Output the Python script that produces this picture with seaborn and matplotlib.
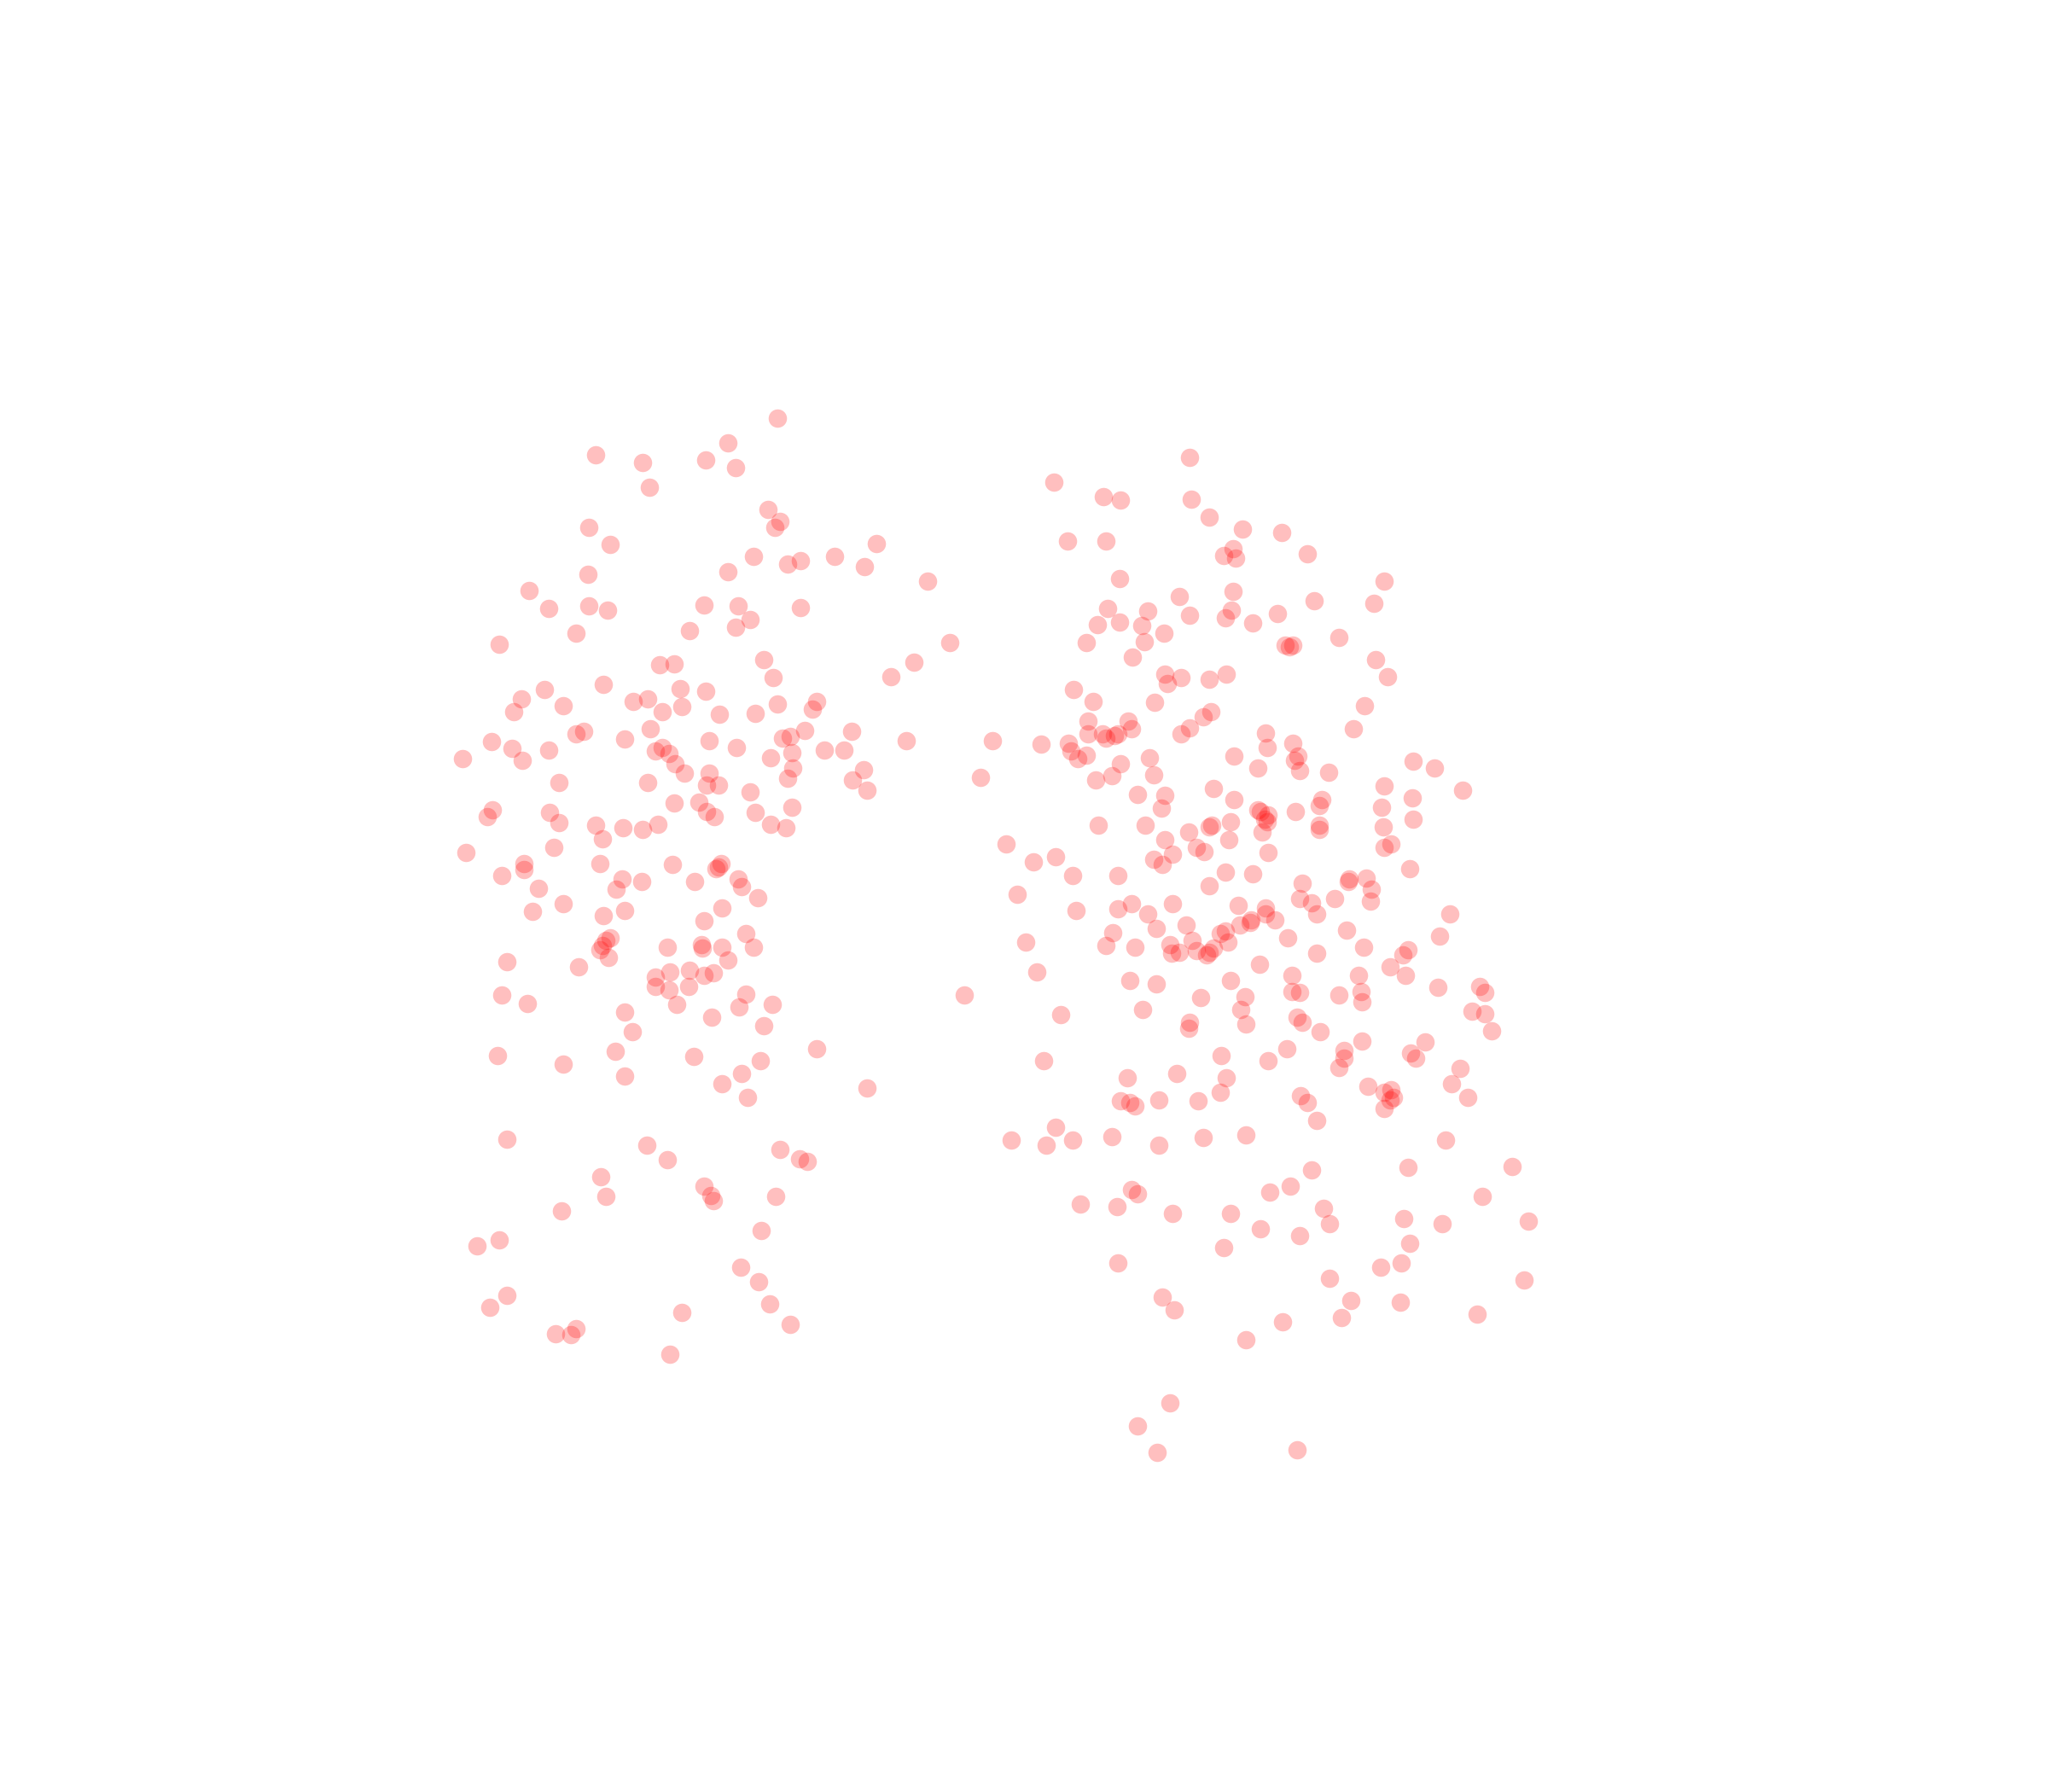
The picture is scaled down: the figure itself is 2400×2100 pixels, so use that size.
import matplotlib
matplotlib.use("Agg")
import matplotlib.pyplot as plt
import pandas as pd
import seaborn as sns

left_points = [(595,320),(557,339),(456,348),(540,352),(492,354),(563,358),(497,373),(588,390),(597,399),(593,404),(451,404),(467,417),(671,416),(639,426),(613,429),(603,432),(577,426),(662,434),(557,438),(450,440),(710,445),(405,452),(420,466),(451,464),(465,467),(539,463),(565,464),(613,465),(574,474),(563,480),(528,483),(441,485),(382,493),(727,492),(585,505),(700,507),(505,509),(516,508),(682,518),(592,519),(462,524),(521,527),(540,529),(417,528),(399,535),(431,540),(496,535),(485,537),(625,537),(595,539),(622,543),(507,545),(522,541),(393,545),(578,546),(551,547),(447,560),(441,562),(498,558),(616,559),(652,560),(605,564),(599,565),(694,567),(543,567),(478,566),(376,568),(392,573),(420,574),(507,572),(502,575),(512,577),(564,572),(631,574),(646,574),(606,576),(590,580),(354,581),(400,582),(517,585),(607,588),(661,589),(524,592),(543,592),(428,599),(496,599),(541,601),(550,601),(603,596),(653,597),(664,605),(574,606),(535,614),(516,615),(606,618),(541,621),(547,625),(578,622),(377,620),(373,625),(421,622),(428,630),(456,632),(477,634),(492,635),(504,631),(590,631),(602,634),(461,642),(424,649),(357,653),(459,661),(401,661),(401,666),(384,670),(515,662),(552,661),(548,665),(550,664),(565,673),(476,673),(491,675),(532,675),(568,679),(472,681),(412,680),(580,687),(431,692),(408,698),(478,697),(553,695),(462,701),(539,705),(571,715),(467,718),(464,720),(461,724),(459,727),(511,725),(537,723),(538,726),(553,725),(577,725),(466,733),(557,735),(388,736),(443,740),(528,743),(513,744),(546,745),(539,747),(502,748),(502,755),(527,755),(512,758),(571,761),(384,762),(404,768),(518,769),(566,771),(591,769),(478,775),(545,779),(585,785),(484,790),(738,762),(625,803),(471,805),(381,808),(531,809),(582,812),(431,815),(478,824),(568,822),(553,830),(664,833),(572,840),(388,872),(495,877),(511,888),(597,880),(612,887),(618,889),(460,901),(539,908),(464,916),(544,915),(546,919),(594,916),(430,927),(583,942),(382,949),(365,954),(567,970),(581,981),(388,992),(375,1001),(589,998),(522,1005),(605,1014),(441,1017),(425,1021),(437,1022),(513,1037)]

right_points = [(911,350),(807,369),(845,380),(858,383),(912,382),(926,396),(951,405),(981,408),(817,414),(847,414),(944,420),(937,425),(946,427),(1001,424),(857,443),(1060,445),(903,457),(944,453),(1006,460),(1052,462),(848,466),(879,468),(943,467),(978,470),(911,471),(938,473),(857,476),(840,478),(874,479),(959,477),(891,485),(876,491),(832,492),(1025,488),(984,494),(990,494),(987,495),(867,503),(1053,505),(892,516),(939,516),(904,519),(926,520),(894,523),(1062,518),(822,528),(837,537),(884,538),(1045,540),(927,545),(921,549),(833,552),(864,552),(911,557),(1036,558),(866,558),(833,562),(844,562),(856,562),(853,563),(847,565),(904,562),(969,561),(760,567),(797,570),(818,569),(820,575),(990,569),(970,572),(832,578),(825,581),(880,580),(945,579),(994,579),(991,582),(858,585),(1082,583),(1098,588),(963,588),(995,590),(1017,591),(883,593),(851,594),(839,597),(751,595),(929,604),(1060,602),(1120,605),(871,608),(892,609),(945,612),(1012,612),(1081,611),(889,619),(1010,617),(1058,618),(963,620),(965,621),(992,621),(971,624),(968,627),(970,629),(1082,627),(877,632),(841,632),(926,633),(928,632),(942,629),(1059,633),(966,637),(1010,632),(1010,635),(910,637),(892,643),(941,643),(1065,646),(1060,649),(770,646),(916,649),(922,652),(971,653),(808,656),(791,660),(898,654),(883,658),(890,662),(1079,665),(821,670),(856,670),(938,668),(959,669),(1033,673),(1032,675),(1046,672),(997,676),(926,678),(1050,681),(779,685),(1022,688),(995,688),(1049,690),(1004,691),(866,692),(856,696),(898,692),(948,693),(824,697),(969,695),(1008,700),(1110,700),(879,700),(969,700),(958,704),(957,706),(976,704),(949,708),(908,708),(885,711),(1031,712),(852,714),(938,713),(934,715),(986,718),(1102,717),(785,721),(847,724),(869,725),(913,720),(940,721),(896,723),(1044,725),(1078,727),(1074,731),(929,726),(916,728),(926,729),(924,731),(897,730),(903,729),(1008,730),(964,738),(1064,740),(794,744),(1040,747),(1076,747),(989,747),(865,751),(885,753),(942,751),(1133,755),(1137,760),(1101,756),(1042,759),(989,759),(995,760),(919,764),(953,763),(1025,762),(1043,767),(950,773),(875,773),(812,777),(1127,774),(1137,776),(993,779),(997,783),(911,783),(954,784),(910,787),(1011,790),(1142,789),(1043,797),(1091,798),(985,803),(935,808),(1029,804),(1029,810),(1080,806),(1084,810),(799,812),(971,812),(1025,817),(1118,818),(901,822),(863,825),(939,825),(1111,830),(1047,832),(934,836),(1065,834),(1060,836),(996,839),(1067,840),(1064,842),(1124,840),(858,843),(865,844),(869,847),(887,842),(917,843),(1001,844),(1060,849),(1008,858),(808,863),(851,870),(954,869),(921,871),(821,873),(774,873),(801,877),(887,877),(1107,873),(1078,894),(1158,893),(1004,896),(988,908),(866,911),(871,914),(972,913),(1135,916),(827,922),(855,924),(1013,925),(898,929),(942,929),(1018,937),(1075,933),(1104,937),(1170,935),(965,941),(995,946),(1079,952),(937,955),(856,967),(1073,967),(1057,970),(1018,979),(1167,980),(890,993),(1034,996),(1072,997),(899,1003),(1131,1006),(1027,1009),(982,1012),(954,1026),(896,1074),(871,1092),(993,1110),(886,1112)]

points = left_points + right_points
df = pd.DataFrame(points, columns=["x", "y"])

sns.set_theme(style="white")
fig = plt.figure(figsize=(24, 21), dpi=100, facecolor="white")
ax = fig.add_axes([0, 0, 1, 1])
sns.scatterplot(data=df, x="x", y="y", ax=ax, color="#ff0000", alpha=0.25, s=240, linewidth=0)
ax.set_xlim(0, 1568)
ax.set_ylim(1372, 0)
ax.set_axis_off()
fig.savefig("out.png", dpi=100, facecolor="white")
